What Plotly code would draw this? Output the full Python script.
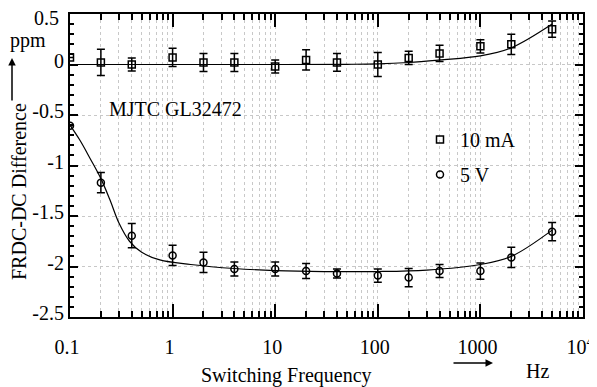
import plotly.graph_objects as go

# ---- data ----
freq = [0.1, 0.2, 0.4, 1, 2, 4, 10, 20, 40, 100, 200, 400, 1000, 2000, 5000]
ma_vals = [0.07, 0.02, 0.0, 0.07, 0.02, 0.02, -0.02, 0.045, 0.02, 0.0, 0.065, 0.11, 0.18, 0.2, 0.35]
ma_err = [0.0, 0.13, 0.065, 0.09, 0.09, 0.09, 0.065, 0.1, 0.088, 0.12, 0.065, 0.08, 0.065, 0.1, 0.08]
v5_vals = [-0.606, -1.17, -1.695, -1.89, -1.96, -2.025, -2.025, -2.045, -2.07, -2.09, -2.11, -2.045, -2.045, -1.91, -1.655]
v5_err = [0.0, 0.1, 0.12, 0.1, 0.1, 0.07, 0.07, 0.075, 0.045, 0.065, 0.09, 0.065, 0.08, 0.1, 0.09]

fit_ma_f = [0.1, 1, 10, 50, 100, 200, 400, 1000, 2000, 5000]
fit_ma_v = [0.0, 0.0, 0.0, 0.002, 0.006, 0.02, 0.045, 0.085, 0.165, 0.40]
fit_v5_f = [0.1, 0.125, 0.157, 0.2, 0.245, 0.3, 0.38, 0.5, 0.75, 1.5, 4, 10, 30, 100, 300, 1000, 2000, 5000]
fit_v5_v = [-0.6, -0.75, -0.93, -1.13, -1.34, -1.57, -1.75, -1.86, -1.935, -1.98, -2.02, -2.04, -2.05, -2.05,
            -2.035, -1.98, -1.9, -1.64]

x_tickvals = [0.1, 1, 10, 100, 1000, 10000]
x_ticktext = ["0.1", "1", "10", "100", "1000", "10<sup>4</sup>"]
y_tickvals = [0.5, 0, -0.5, -1, -1.5, -2, -2.5]
y_ticktext = ["0.5", "0", "-0.5", "-1", "-1.5", "-2", "-2.5"]

FONT = "'Liberation Serif', 'Times New Roman', Times, serif"
GRID = "#c8c8c8"

fig = go.Figure()

fig.add_trace(go.Scatter(x=fit_ma_f, y=fit_ma_v, mode="lines", line=dict(color="black", width=1.2, shape="spline"),
                         showlegend=False, hoverinfo="skip"))
fig.add_trace(go.Scatter(x=fit_v5_f, y=fit_v5_v, mode="lines", line=dict(color="black", width=1.2, shape="spline"),
                         showlegend=False, hoverinfo="skip"))

fig.add_trace(go.Scatter(
    x=freq, y=ma_vals, mode="markers", name="10 mA", legendgroup="a",
    marker=dict(symbol="square-open", size=7, color="black", line=dict(width=1.5)),
    error_y=dict(type="data", array=ma_err, color="black", thickness=1.5, width=4)))
fig.add_trace(go.Scatter(
    x=freq, y=v5_vals, mode="markers", name="5 V", legendgroup="b",
    marker=dict(symbol="circle-open", size=7, color="black", line=dict(width=1.5)),
    error_y=dict(type="data", array=v5_err, color="black", thickness=1.5, width=4)))

minor_x = [m * 10 ** k for k in range(-1, 4) for m in range(2, 10)]

fig.update_xaxes(
    type="log", range=[-1, 4], automargin=False,
    tickmode="array", tickvals=x_tickvals, ticktext=x_ticktext,
    ticks="inside", ticklen=13, tickwidth=1.5, tickcolor="black",
    showline=True, linewidth=2, linecolor="black", mirror="ticks",
    showgrid=True, gridcolor=GRID, griddash="dot", gridwidth=1,
    ticklabelstandoff=11, ticklabeloverflow="allow", ticklabelshift=-3,
    minor=dict(tickmode="array", tickvals=minor_x, ticks="inside", ticklen=6, tickwidth=1.5, tickcolor="black",
               showgrid=True, gridcolor=GRID, griddash="dot", gridwidth=1),
    zeroline=False,
)
# the top label (0.5) sits at the page edge; it is drawn as an annotation just inside
y_axis_text = ["" if v == y_tickvals[0] else t for v, t in zip(y_tickvals, y_ticktext)]
fig.update_yaxes(
    range=[-2.5, 0.5], automargin=False,
    tickmode="array", tickvals=y_tickvals, ticktext=y_axis_text,
    ticks="inside", ticklen=8, tickwidth=1.5, tickcolor="black",
    showline=True, linewidth=2, linecolor="black", mirror="ticks",
    showgrid=True, gridcolor=GRID, griddash="dot", gridwidth=1,
    ticklabelstandoff=0, ticklabelshift=-4, ticklabeloverflow="allow",
    minor=dict(dtick=0.1, ticks="inside", ticklen=4, tickwidth=1.5, tickcolor="black", showgrid=False),
    zeroline=False,
)

# page has an 8px body margin, so the figure is 8px smaller and offset
OFF = 8
W, H = 597 - OFF, 387 - OFF
L, R, T, B = 70 - OFF, 14, 14 - OFF, 70
pw, ph = W - L - R, H - T - B


def px(xp):
    return (xp - OFF - L) / pw


def py(yp):
    return (H - B - (yp - OFF)) / ph


ann = []
ann.append(dict(text=y_ticktext[0], x=px(61), y=py(18), showarrow=False, xref="paper", yref="paper",
                xanchor="right", yanchor="middle", font=dict(size=20)))
ann.append(dict(text="FRDC-DC Difference", x=px(19), y=py(192), textangle=-90, showarrow=False,
                xref="paper", yref="paper", xanchor="center", yanchor="middle", font=dict(size=20)))
ann.append(dict(text="ppm", x=px(28), y=py(41), showarrow=False, xref="paper", yref="paper",
                xanchor="center", yanchor="middle", font=dict(size=20)))
ann.append(dict(text="", x=px(12), y=py(58), ax=0, ay=44, showarrow=True, arrowhead=2, arrowsize=1,
                arrowwidth=1.5, arrowcolor="black", xref="paper", yref="paper"))
ann.append(dict(text="", x=px(493), y=py(363), ax=-41, ay=0, showarrow=True, arrowhead=2, arrowsize=1,
                arrowwidth=1.5, arrowcolor="black", xref="paper", yref="paper"))
ann.append(dict(text="Hz", x=px(537), y=py(371), showarrow=False, xref="paper", yref="paper",
                xanchor="center", yanchor="middle", font=dict(size=20)))
ann.append(dict(text="Switching Frequency", x=px(286), y=py(375), showarrow=False, xref="paper", yref="paper",
                xanchor="center", yanchor="middle", font=dict(size=20)))
ann.append(dict(text="MJTC GL32472", x=px(107), y=py(109), showarrow=False, xref="paper", yref="paper",
                xanchor="left", yanchor="middle", font=dict(size=20)))

fig.update_layout(
    width=W, height=H,
    margin=dict(l=L, r=R, t=T, b=B, pad=0, autoexpand=False),
    paper_bgcolor="white", plot_bgcolor="white",
    font=dict(family=FONT, size=20, color="black"),
    annotations=ann,
    showlegend=True,
    legend=dict(x=px(420), y=py(120), xanchor="left", yanchor="top", bgcolor="rgba(0,0,0,0)",
                itemwidth=30, tracegroupgap=6, font=dict(size=20)),
)

fig.write_html("out.html")
